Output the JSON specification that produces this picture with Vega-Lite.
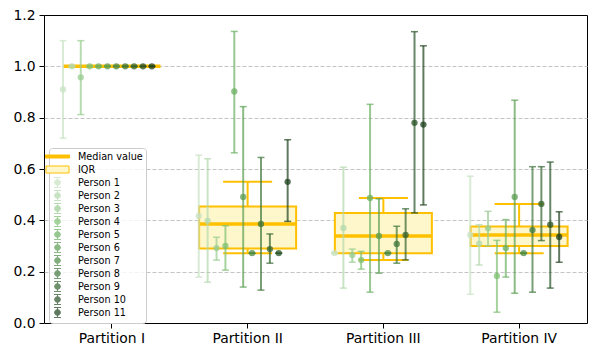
{
  "$schema": "https://vega.github.io/schema/vega-lite/v6.json",
  "width": 543,
  "height": 308,
  "autosize": {"type": "none"},
  "padding": {"left": 44, "top": 15, "right": 9, "bottom": 35},
  "background": "white",
  "config": {
    "view": {"stroke": "black", "strokeWidth": 1},
    "font": "DejaVu Sans",
    "axis": {"labelFont": "DejaVu Sans", "labelFontSize": 13.9, "labelColor": "black", "tickColor": "black", "tickSize": 5, "tickWidth": 1, "domain": false, "title": null}
  },
  "datasets": {
    "persons": [
      {"partition": "Partition I", "person": "Person 1", "med": 0.91, "lo": 0.72, "hi": 1.10},
      {"partition": "Partition I", "person": "Person 2", "med": 1.0, "lo": 1.0, "hi": 1.0},
      {"partition": "Partition I", "person": "Person 3", "med": 0.957, "lo": 0.812, "hi": 1.10},
      {"partition": "Partition I", "person": "Person 4", "med": 1.0, "lo": 1.0, "hi": 1.0},
      {"partition": "Partition I", "person": "Person 5", "med": 1.0, "lo": 1.0, "hi": 1.0},
      {"partition": "Partition I", "person": "Person 6", "med": 1.0, "lo": 1.0, "hi": 1.0},
      {"partition": "Partition I", "person": "Person 7", "med": 1.0, "lo": 1.0, "hi": 1.0},
      {"partition": "Partition I", "person": "Person 8", "med": 1.0, "lo": 1.0, "hi": 1.0},
      {"partition": "Partition I", "person": "Person 9", "med": 1.0, "lo": 1.0, "hi": 1.0},
      {"partition": "Partition I", "person": "Person 10", "med": 1.0, "lo": 1.0, "hi": 1.0},
      {"partition": "Partition I", "person": "Person 11", "med": 1.0, "lo": 1.0, "hi": 1.0},
      {"partition": "Partition II", "person": "Person 1", "med": 0.417, "lo": 0.179, "hi": 0.654},
      {"partition": "Partition II", "person": "Person 2", "med": 0.398, "lo": 0.159, "hi": 0.640},
      {"partition": "Partition II", "person": "Person 3", "med": 0.292, "lo": 0.245, "hi": 0.334},
      {"partition": "Partition II", "person": "Person 4", "med": 0.300, "lo": 0.206, "hi": 0.379},
      {"partition": "Partition II", "person": "Person 5", "med": 0.902, "lo": 0.663, "hi": 1.136},
      {"partition": "Partition II", "person": "Person 6", "med": 0.491, "lo": 0.140, "hi": 0.843},
      {"partition": "Partition II", "person": "Person 7", "med": 0.272, "lo": 0.272, "hi": 0.272},
      {"partition": "Partition II", "person": "Person 8", "med": 0.386, "lo": 0.128, "hi": 0.645},
      {"partition": "Partition II", "person": "Person 9", "med": 0.288, "lo": 0.233, "hi": 0.347},
      {"partition": "Partition II", "person": "Person 10", "med": 0.272, "lo": 0.272, "hi": 0.272},
      {"partition": "Partition II", "person": "Person 11", "med": 0.550, "lo": 0.396, "hi": 0.714},
      {"partition": "Partition III", "person": "Person 1", "med": 0.272, "lo": 0.272, "hi": 0.272},
      {"partition": "Partition III", "person": "Person 2", "med": 0.370, "lo": 0.136, "hi": 0.607},
      {"partition": "Partition III", "person": "Person 3", "med": 0.265, "lo": 0.237, "hi": 0.288},
      {"partition": "Partition III", "person": "Person 4", "med": 0.245, "lo": 0.210, "hi": 0.279},
      {"partition": "Partition III", "person": "Person 5", "med": 0.487, "lo": 0.120, "hi": 0.852},
      {"partition": "Partition III", "person": "Person 6", "med": 0.339, "lo": 0.194, "hi": 0.484},
      {"partition": "Partition III", "person": "Person 7", "med": 0.272, "lo": 0.272, "hi": 0.272},
      {"partition": "Partition III", "person": "Person 8", "med": 0.308, "lo": 0.233, "hi": 0.377},
      {"partition": "Partition III", "person": "Person 9", "med": 0.343, "lo": 0.246, "hi": 0.445},
      {"partition": "Partition III", "person": "Person 10", "med": 0.780, "lo": 0.429, "hi": 1.135},
      {"partition": "Partition III", "person": "Person 11", "med": 0.773, "lo": 0.460, "hi": 1.080},
      {"partition": "Partition IV", "person": "Person 1", "med": 0.343, "lo": 0.112, "hi": 0.572},
      {"partition": "Partition IV", "person": "Person 2", "med": 0.309, "lo": 0.226, "hi": 0.383},
      {"partition": "Partition IV", "person": "Person 3", "med": 0.369, "lo": 0.301, "hi": 0.435},
      {"partition": "Partition IV", "person": "Person 4", "med": 0.183, "lo": 0.042, "hi": 0.322},
      {"partition": "Partition IV", "person": "Person 5", "med": 0.292, "lo": 0.179, "hi": 0.403},
      {"partition": "Partition IV", "person": "Person 6", "med": 0.491, "lo": 0.116, "hi": 0.868},
      {"partition": "Partition IV", "person": "Person 7", "med": 0.272, "lo": 0.272, "hi": 0.272},
      {"partition": "Partition IV", "person": "Person 8", "med": 0.362, "lo": 0.120, "hi": 0.609},
      {"partition": "Partition IV", "person": "Person 9", "med": 0.464, "lo": 0.321, "hi": 0.609},
      {"partition": "Partition IV", "person": "Person 10", "med": 0.383, "lo": 0.136, "hi": 0.627},
      {"partition": "Partition IV", "person": "Person 11", "med": 0.335, "lo": 0.237, "hi": 0.433}
    ],
    "boxes": [
      {"partition": "Partition I", "q1": 1.0, "median": 1.0, "q3": 1.0, "wlo": 1.0, "whi": 1.0},
      {"partition": "Partition II", "q1": 0.290, "median": 0.386, "q3": 0.454, "wlo": 0.272, "whi": 0.550},
      {"partition": "Partition III", "q1": 0.272, "median": 0.339, "q3": 0.4285, "wlo": 0.245, "whi": 0.487},
      {"partition": "Partition IV", "q1": 0.300, "median": 0.343, "q3": 0.376, "wlo": 0.272, "whi": 0.464}
    ]
  },
  "encoding": {
    "x": {
      "field": "partition", "type": "nominal",
      "scale": {"domain": ["Partition I", "Partition II", "Partition III", "Partition IV"], "paddingInner": 0, "paddingOuter": 0},
      "axis": {"labelAngle": 0, "labelPadding": 3, "grid": false}
    }
  },
  "layer": [
    {
      "data": {"name": "boxes"},
      "layer": [
        {
          "mark": {"type": "bar", "width": 97, "fill": "#fff7cc", "stroke": "#ffc000", "strokeWidth": 2},
          "encoding": {
            "y": {"field": "q1", "type": "quantitative", "scale": {"domain": [0, 1.2], "nice": false},
              "axis": {"values": [0, 0.2, 0.4, 0.6, 0.8, 1.0, 1.2], "format": ".1f", "labelPadding": 4, "grid": true, "gridColor": "#c4c4c4", "gridDash": [4, 2], "gridWidth": 1,
                "gridOpacity": {"condition": {"test": "datum.value === 0 || datum.value === 1.2", "value": 0}, "value": 1}}},
            "y2": {"field": "q3"}
          }
        },
        {
          "mark": {"type": "rule", "color": "#ffc000", "strokeWidth": 2},
          "encoding": {"y": {"field": "q3", "type": "quantitative"}, "y2": {"field": "whi"}}
        },
        {
          "mark": {"type": "rule", "color": "#ffc000", "strokeWidth": 2},
          "encoding": {"y": {"field": "wlo", "type": "quantitative"}, "y2": {"field": "q1"}}
        },
        {
          "mark": {"type": "tick", "orient": "horizontal", "size": 49, "thickness": 2, "color": "#ffc000", "opacity": 1},
          "encoding": {"y": {"field": "whi", "type": "quantitative"}}
        },
        {
          "mark": {"type": "tick", "orient": "horizontal", "size": 49, "thickness": 2, "color": "#ffc000", "opacity": 1},
          "encoding": {"y": {"field": "wlo", "type": "quantitative"}}
        },
        {
          "mark": {"type": "tick", "orient": "horizontal", "size": 97, "thickness": 3.5, "color": "#ffc000", "opacity": 1},
          "encoding": {"y": {"field": "median", "type": "quantitative"}}
        }
      ]
    },
    {
      "data": {"name": "persons"},
      "encoding": {
        "xOffset": {"field": "person", "type": "nominal",
          "scale": {"type": "point", "domain": ["Person 1", "Person 2", "Person 3", "Person 4", "Person 5", "Person 6", "Person 7", "Person 8", "Person 9", "Person 10", "Person 11"], "range": [19, 107.9], "padding": 0}}
      },
      "layer": [
        {
          "mark": {"type": "rule", "strokeWidth": 2, "opacity": 0.7},
          "encoding": {
            "y": {"field": "lo", "type": "quantitative"}, "y2": {"field": "hi"},
            "stroke": {"field": "person", "type": "nominal", "legend": null,
              "scale": {"domain": ["Person 1", "Person 2", "Person 3", "Person 4", "Person 5", "Person 6", "Person 7", "Person 8", "Person 9", "Person 10", "Person 11"],
                "range": ["#c8e2c3", "#b2d8ac", "#98cc90", "#7fc072", "#6bb062", "#5b9e52", "#4c8a45", "#3e763a", "#32632f", "#275226", "#1c401c"]}}
          }
        },
        {
          "mark": {"type": "tick", "orient": "horizontal", "size": 7, "thickness": 1.5, "opacity": 0.7},
          "encoding": {
            "y": {"field": "lo", "type": "quantitative"},
            "fill": {"field": "person", "type": "nominal", "legend": null,
              "scale": {"domain": ["Person 1", "Person 2", "Person 3", "Person 4", "Person 5", "Person 6", "Person 7", "Person 8", "Person 9", "Person 10", "Person 11"],
                "range": ["#c8e2c3", "#b2d8ac", "#98cc90", "#7fc072", "#6bb062", "#5b9e52", "#4c8a45", "#3e763a", "#32632f", "#275226", "#1c401c"]}}
          }
        },
        {
          "mark": {"type": "tick", "orient": "horizontal", "size": 7, "thickness": 1.5, "opacity": 0.7},
          "encoding": {
            "y": {"field": "hi", "type": "quantitative"},
            "fill": {"field": "person", "type": "nominal", "legend": null}
          }
        },
        {
          "mark": {"type": "point", "filled": true, "size": 40, "opacity": 0.75},
          "encoding": {
            "y": {"field": "med", "type": "quantitative"},
            "color": {
              "field": "person", "type": "nominal",
              "scale": {
                "domain": ["Median value", "IQR", "Person 1", "Person 2", "Person 3", "Person 4", "Person 5", "Person 6", "Person 7", "Person 8", "Person 9", "Person 10", "Person 11"],
                "range": ["#ffc000", "#fff7cc", "#c8e2c3", "#b2d8ac", "#98cc90", "#7fc072", "#6bb062", "#5b9e52", "#4c8a45", "#3e763a", "#32632f", "#275226", "#1c401c"]
              },
              "legend": {
                "orient": "none", "legendX": 5, "legendY": 133, "title": null,
                "labelFont": "DejaVu Sans", "labelFontSize": 9.7, "labelColor": "black",
                "symbolSize": 100, "labelOffset": 15, "rowPadding": -2.1, "padding": 3,
                "fillColor": "rgba(255,255,255,0.8)", "strokeColor": "#cccccc", "cornerRadius": 3,
                "symbolStrokeWidth": 1,
                "symbolType": {"expr": "datum.value === 'Median value' ? 'M-2.4,-0.3H2.4V0.3H-2.4ZM0,-1M0,1' : datum.value === 'IQR' ? 'M-2.3,-0.7H2.3V0.7H-2.3ZM0,-1M0,1' : 'M-0.7,-1H0.7M0,-1V1M-0.7,1H0.7M0.6,0L0.42,0.42L0,0.6L-0.42,0.42L-0.6,0L-0.42,-0.42L0,-0.6L0.42,-0.42Z'"},
                "symbolStrokeColor": {"expr": "datum.value === 'IQR' ? '#ffc000' : scale('color', datum.value)"},
                "symbolOpacity": {"expr": "datum.value === 'Median value' || datum.value === 'IQR' ? 1 : 0.7"}
              }
            }
          }
        }
      ]
    }
  ]
}
